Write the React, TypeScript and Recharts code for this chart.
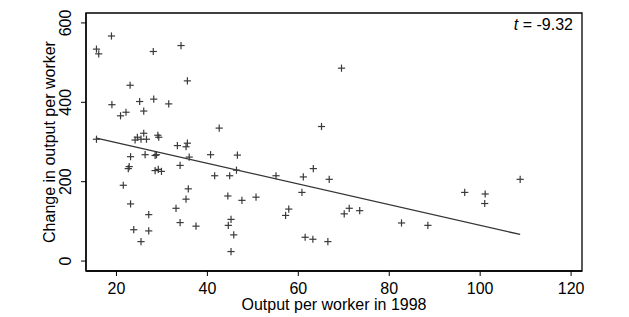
import React from 'react';
import { ComposedChart, Scatter, XAxis, YAxis, ReferenceLine, ReferenceArea } from 'recharts';

const outputPerWorker1998 = [
  18.9, 15.6, 16.1, 28.1, 34.2, 35.6, 23.0, 19.0, 25.1, 28.2, 31.5, 26.0, 22.1, 20.9, 42.6,
  15.6, 26.0, 24.6, 24.1, 25.4, 26.6, 29.1, 29.3, 33.4, 35.3, 35.6, 23.1, 26.3, 28.5, 28.8,
  36.0, 40.7, 46.6, 22.8, 22.6, 28.5, 29.2, 29.9, 34.0, 41.6, 44.9, 46.4, 55.1, 21.5, 35.8,
  35.3, 44.5, 47.6, 50.7, 23.1, 33.1, 27.1, 34.0, 37.5, 45.2, 44.6, 45.8, 23.8, 27.1, 25.4,
  45.2, 69.5, 65.1, 61.1, 63.3, 66.8, 60.8, 57.9, 57.2, 71.2, 70.1, 73.5, 82.7, 88.5, 96.6,
  61.5, 63.2, 66.5, 101.1, 101.0, 108.8,
];
const changeInOutput = [
  567, 534, 522, 528, 543, 454, 443, 394, 402, 408, 396, 378, 375, 366, 335,
  307, 322, 312, 305, 307, 307, 317, 312, 291, 288, 297, 263, 268, 266, 268,
  262, 268, 267, 238, 233, 228, 231, 226, 241, 215, 215, 229, 215, 191, 182,
  156, 164, 153, 161, 144, 133, 117, 97, 88, 105, 90, 66, 79, 76, 49,
  24, 486, 339, 212, 233, 206, 173, 131, 115, 133, 119, 127, 96, 90, 173,
  60, 55, 49, 169, 145, 206,
];
const fitLine = [
  { x: 15.6, y: 310 },
  { x: 108.8, y: 67 },
];
const xTicks = [20, 40, 60, 80, 100, 120];
const yTicks = [0, 200, 400, 600];
const xDomain: [number, number] = [13.3, 122.4];
const yDomain: [number, number] = [-25, 625];

const points = outputPerWorker1998.map((x, i) => ({ x, y: changeInOutput[i] }));

const FONT = '"Liberation Sans", Arial, sans-serif';
const FS = 16;

const Plus = (props: any) => {
  const { cx, cy } = props;
  if (cx == null || cy == null) return null;
  const s = 3.6;
  return (
    <g stroke="#3a3a3a" strokeWidth={1.2}>
      <line x1={cx - s} y1={cy} x2={cx + s} y2={cy} />
      <line x1={cx} y1={cy - s} x2={cx} y2={cy + s} />
    </g>
  );
};

const XTick = (props: any) => {
  const { x, y, payload } = props;
  return (
    <text x={x} y={y + 10} textAnchor="middle" dominantBaseline="central" fontFamily={FONT} fontSize={FS} fill="#000">
      {payload.value}
    </text>
  );
};

const YTick = (props: any) => {
  const { x, y, payload } = props;
  const cx = x - 13;
  return (
    <text x={cx} y={y} textAnchor="middle" dominantBaseline="central" fontFamily={FONT} fontSize={FS} fill="#000" transform={`rotate(-90, ${cx}, ${y})`}>
      {payload.value}
    </text>
  );
};

export default function App() {
  return (
    <div style={{ position: 'absolute', left: 0, top: 0, width: 629, height: 317, background: '#fff' }}>
      <ComposedChart width={629} height={317} margin={{ top: 13, right: 47, bottom: 0, left: 36 }}>
        <XAxis
          type="number"
          dataKey="x"
          domain={xDomain}
          ticks={xTicks}
          allowDataOverflow
          height={46}
          tick={<XTick />}
          tickSize={5}
          tickLine={{ stroke: '#000', strokeWidth: 1 }}
          axisLine={{ stroke: '#000', strokeWidth: 1.3 }}
        />
        <YAxis
          type="number"
          dataKey="y"
          domain={yDomain}
          ticks={yTicks}
          allowDataOverflow
          width={50}
          tick={<YTick />}
          tickSize={5}
          tickLine={{ stroke: '#000', strokeWidth: 1 }}
          axisLine={{ stroke: '#000', strokeWidth: 1.3 }}
        />
        <ReferenceArea x1={xDomain[0]} x2={xDomain[1]} y1={yDomain[0]} y2={yDomain[1]} fill="none" stroke="#000" strokeWidth={1.3} ifOverflow="visible" />
        <ReferenceLine segment={fitLine} stroke="#333" strokeWidth={1.3} ifOverflow="visible" />
        <Scatter data={points} dataKey="y" shape={<Plus />} isAnimationActive={false} />
        <text x={573} y={24} textAnchor="end" dominantBaseline="central" fontFamily={FONT} fontSize={FS} fill="#000">
          <tspan fontStyle="italic">t</tspan> = -9.32
        </text>
        <text x={334} y={304} textAnchor="middle" dominantBaseline="central" fontFamily={FONT} fontSize={FS} fill="#000">
          Output per worker in 1998
        </text>
        <text x={49} y={142} textAnchor="middle" dominantBaseline="central" fontFamily={FONT} fontSize={FS} fill="#000" transform="rotate(-90, 49, 142)">
          Change in output per worker
        </text>
      </ComposedChart>
    </div>
  );
}
